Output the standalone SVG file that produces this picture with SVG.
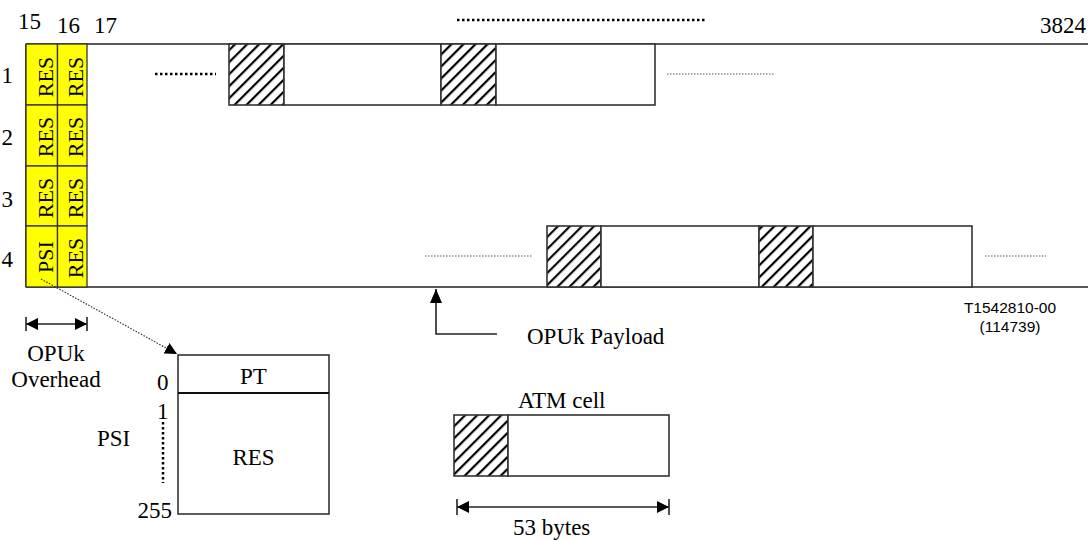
<svg xmlns="http://www.w3.org/2000/svg" width="1088" height="540" viewBox="0 0 1088 540">
<style>
text{font-family:"Liberation Serif","Times New Roman",serif;font-size:23px;fill:#000}
.sans{font-family:"Liberation Sans",Arial,sans-serif;font-size:15.5px}
.rot{font-size:22px}
.ln{stroke:#222;stroke-width:1.6;fill:none}
.box{stroke:#333;stroke-width:1.6;fill:#fff}
.hat{stroke:#333;stroke-width:1.6;fill:url(#hatch)}
.cell{stroke:#333;stroke-width:1.3;fill:#ffff00}
.dotk{stroke:#000;stroke-width:2.5;stroke-dasharray:2.5 2.5;fill:none}
.dott{stroke:#555;stroke-width:1.2;stroke-dasharray:1.5 1.5;fill:none}
</style>
<defs>
<pattern id="hatch" patternUnits="userSpaceOnUse" width="8.5" height="10" patternTransform="rotate(45)">
<rect width="8.5" height="10" fill="#fff"/>
<line x1="2" y1="0" x2="2" y2="10" stroke="#000" stroke-width="2.2"/>
</pattern>
<marker id="ah" viewBox="0 0 12 12" refX="12" refY="6" markerWidth="12" markerHeight="12" orient="auto-start-reverse" markerUnits="userSpaceOnUse">
<path d="M0,0 L12,6 L0,12 z" fill="#000"/>
</marker>
<marker id="ah2" viewBox="0 0 14 12" refX="14" refY="6" markerWidth="14" markerHeight="12" orient="auto" markerUnits="userSpaceOnUse">
<path d="M0,0 L14,6 L0,12 z" fill="#000"/>
</marker>
</defs>
<rect width="1088" height="540" fill="#fff"/>

<g id="column-labels">
<text x="18" y="29">15</text>
<text x="57" y="33">16</text>
<text x="94" y="33">17</text>
<text x="1086" y="33" text-anchor="end">3824</text>
<line class="dotk" x1="457" y1="20" x2="705" y2="20"/>
</g>

<g id="row-labels">
<text x="13" y="83" text-anchor="end">1</text>
<text x="13" y="145" text-anchor="end">2</text>
<text x="13" y="207" text-anchor="end">3</text>
<text x="13" y="267" text-anchor="end">4</text>
</g>

<g id="frame">
<line class="ln" x1="26" y1="44" x2="1088" y2="44"/>
<line class="ln" x1="26" y1="287" x2="1088" y2="287"/>
<line class="ln" x1="26" y1="44" x2="26" y2="287"/>
</g>

<g id="row1-payload">
<rect class="hat" x="229" y="44" width="55" height="61"/>
<rect class="box" x="284" y="44" width="157" height="61"/>
<rect class="hat" x="441" y="44" width="55" height="61"/>
<rect class="box" x="496" y="44" width="159" height="61"/>
<line class="dotk" x1="155" y1="74" x2="216" y2="74"/>
<line class="dott" x1="667" y1="74" x2="774" y2="74"/>
</g>

<g id="row4-payload">
<rect class="hat" x="547" y="226" width="54" height="61"/>
<rect class="box" x="601" y="226" width="158" height="61"/>
<rect class="hat" x="759" y="226" width="54" height="61"/>
<rect class="box" x="813" y="226" width="159" height="61"/>
<line class="dott" x1="425" y1="256" x2="533" y2="256"/>
<line class="dott" x1="985" y1="256" x2="1046" y2="256"/>
</g>

<g id="opu-overhead-cells">
<rect class="cell" x="26" y="44" width="31.5" height="61"/>
<rect class="cell" x="57.5" y="44" width="29.5" height="61"/>
<rect class="cell" x="26" y="105" width="31.5" height="61"/>
<rect class="cell" x="57.5" y="105" width="29.5" height="61"/>
<rect class="cell" x="26" y="166" width="31.5" height="60"/>
<rect class="cell" x="57.5" y="166" width="29.5" height="60"/>
<rect class="cell" x="26" y="226" width="31.5" height="61"/>
<rect class="cell" x="57.5" y="226" width="29.5" height="61"/>
<text class="rot" text-anchor="middle" transform="translate(52.5,77) rotate(-90)">RES</text>
<text class="rot" text-anchor="middle" transform="translate(82.5,77) rotate(-90)">RES</text>
<text class="rot" text-anchor="middle" transform="translate(52.5,137) rotate(-90)">RES</text>
<text class="rot" text-anchor="middle" transform="translate(82.5,137) rotate(-90)">RES</text>
<text class="rot" text-anchor="middle" transform="translate(52.5,198) rotate(-90)">RES</text>
<text class="rot" text-anchor="middle" transform="translate(82.5,198) rotate(-90)">RES</text>
<text class="rot" text-anchor="middle" transform="translate(52.5,257) rotate(-90)">PSI</text>
<text class="rot" text-anchor="middle" transform="translate(82.5,258) rotate(-90)">RES</text>
</g>

<g id="figure-id">
<text class="sans" x="1010" y="313" text-anchor="middle">T1542810-00</text>
<text class="sans" x="1010" y="332" text-anchor="middle">(114739)</text>
</g>

<g id="opuk-overhead-label">
<text x="56" y="361" text-anchor="middle">OPUk</text>
<text x="56" y="387" text-anchor="middle">Overhead</text>
</g>

<g id="opuk-payload-label">
<text x="527" y="344">OPUk Payload</text>
</g>

<g id="psi-box">
<rect class="box" x="178" y="355" width="151" height="159"/>
<line stroke="#111" stroke-width="2.2" x1="178" y1="393" x2="329" y2="393"/>
<text x="253.5" y="384" text-anchor="middle">PT</text>
<text x="253.5" y="465" text-anchor="middle">RES</text>
<text x="157" y="390">0</text>
<text x="157" y="419">1</text>
<line class="dotk" x1="163" y1="422" x2="163" y2="483"/>
<text x="172" y="518" text-anchor="end">255</text>
<text x="97" y="446">PSI</text>
</g>

<g id="atm-cell">
<text x="518" y="408">ATM cell</text>
<rect class="hat" x="454" y="415" width="54" height="61"/>
<rect class="box" x="508" y="415" width="161" height="61"/>
<text x="513" y="535">53 bytes</text>
</g>

<g id="connectors">
<line stroke="#333" stroke-width="1.2" stroke-dasharray="1.5 1.5" x1="41" y1="279" x2="177" y2="354" marker-end="url(#ah)"/>
<polyline class="ln" points="497,334 436,334 436,289" marker-end="url(#ah2)"/>
<line class="ln" x1="26" y1="324" x2="87" y2="324" marker-start="url(#ah)" marker-end="url(#ah)"/>
<line class="ln" x1="26" y1="317" x2="26" y2="331"/>
<line class="ln" x1="87" y1="317" x2="87" y2="331"/>
<line class="ln" x1="457" y1="507" x2="669" y2="507" marker-start="url(#ah)" marker-end="url(#ah)"/>
<line class="ln" x1="457" y1="499" x2="457" y2="515"/>
<line class="ln" x1="669" y1="499" x2="669" y2="515"/>
</g>
</svg>
